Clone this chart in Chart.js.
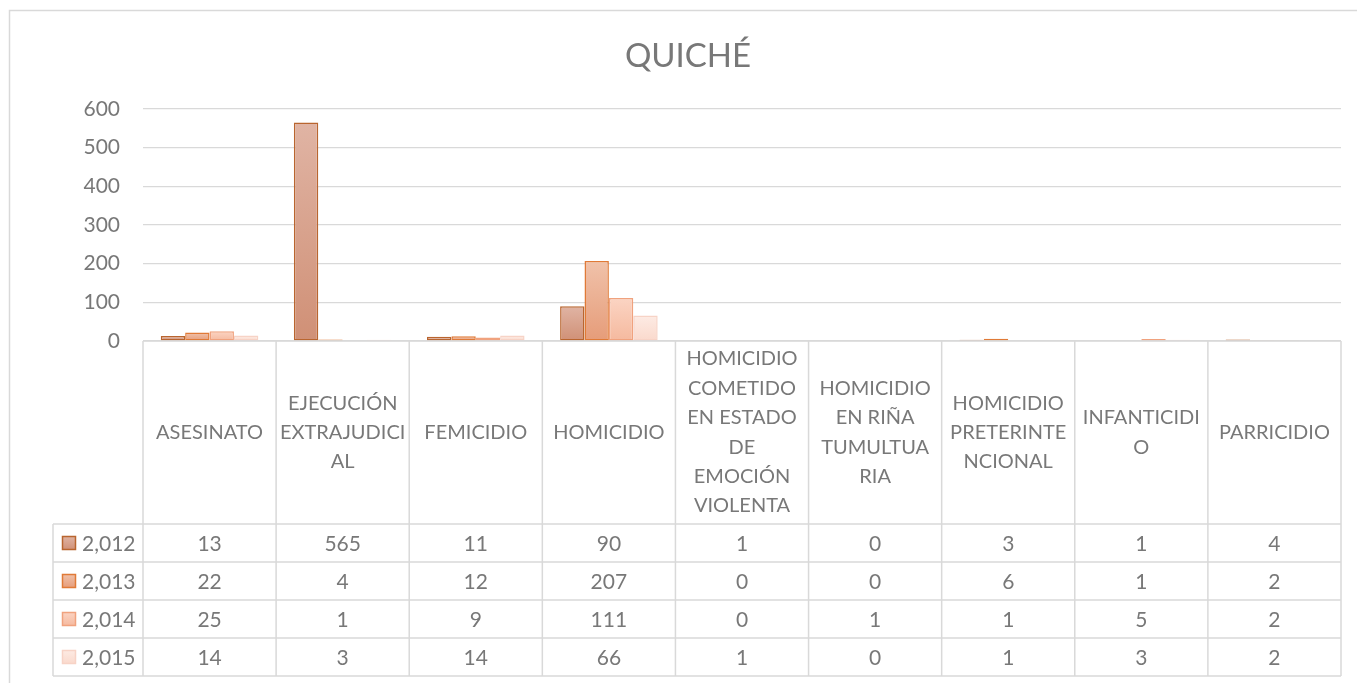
<!DOCTYPE html>
<html>
<head>
<meta charset="utf-8">
<script src="https://cdn.jsdelivr.net/npm/chart.js@4/dist/chart.umd.min.js"></script>
<style>
  html, body { margin: 0; padding: 0; background: #ffffff; }
  #wrap { position: relative; width: 1357px; height: 683px; }
</style>
</head>
<body>
<div id="wrap"><canvas id="c"></canvas></div>
<script>
// ---- data ----
const chartTitle = 'QUICHÉ';
const categories = [
  ['ASESINATO'],
  ['EJECUCIÓN', 'EXTRAJUDICI', 'AL'],
  ['FEMICIDIO'],
  ['HOMICIDIO'],
  ['HOMICIDIO', 'COMETIDO', 'EN ESTADO', 'DE', 'EMOCIÓN', 'VIOLENTA'],
  ['HOMICIDIO', 'EN RIÑA', 'TUMULTUA', 'RIA'],
  ['HOMICIDIO', 'PRETERINTE', 'NCIONAL'],
  ['INFANTICIDI', 'O'],
  ['PARRICIDIO']
];
const seriesNames = ['2,012', '2,013', '2,014', '2,015'];
const values2012 = [13, 565, 11, 90, 1, 0, 3, 1, 4];
const values2013 = [22, 4, 12, 207, 0, 0, 6, 1, 2];
const values2014 = [25, 1, 9, 111, 0, 1, 1, 5, 2];
const values2015 = [14, 3, 14, 66, 1, 0, 1, 3, 2];
const yTicks = [0, 100, 200, 300, 400, 500, 600];

// ---- styles ----
const FONT = 'Lato, "Open Sans", sans-serif';
const TEXT = '#787878';
const LINE = '#d9d9d9';
const styles = [
  { border: '#b9652f', top: '#e0b4a4', bottom: '#d09076' },
  { border: '#e07a37', top: '#f0c2aa', bottom: '#e69c79' },
  { border: '#f0a27e', top: '#fbd4c3', bottom: '#f5b99e' },
  { border: '#f7d3c6', top: '#fdebe4', bottom: '#fad9cc' }
];
const allValues = [values2012, values2013, values2014, values2015];

function barGradient(ctx, si) {
  const chart = ctx.chart;
  const st = styles[si];
  if (!chart.chartArea || ctx.type !== 'data') return st.bottom;
  const y = chart.scales.y;
  const v = ctx.raw;
  const yTop = y.getPixelForValue(v);
  const yBot = y.getPixelForValue(0);
  if (!isFinite(yTop) || Math.abs(yBot - yTop) < 1) return st.bottom;
  const g = chart.ctx.createLinearGradient(0, yTop, 0, yBot);
  g.addColorStop(0, st.top);
  g.addColorStop(1, st.bottom);
  return g;
}

const datasets = allValues.map((vals, si) => ({
  label: seriesNames[si],
  data: vals,
  backgroundColor: (ctx) => barGradient(ctx, si),
  borderColor: styles[si].border,
  borderWidth: 1.5,
  borderSkipped: false,
  categoryPercentage: 0.733,
  barPercentage: 1.0
}));

const frameAndTable = {
  id: 'frameAndTable',
  beforeDraw(chart) {
    const c = chart.ctx;
    c.save();
    c.fillStyle = '#ffffff';
    c.fillRect(0, 0, chart.width, chart.height);
    c.strokeStyle = LINE;
    c.lineWidth = 1.5;
    c.strokeRect(9.5, 10.5, chart.width + 20, chart.height + 20);
    // title
    c.fillStyle = TEXT;
    c.font = '33px ' + FONT;
    c.textAlign = 'center';
    c.textBaseline = 'alphabetic';
    c.fillText(chartTitle, 688, 67);
    c.restore();
  },
  afterDraw(chart) {
    const c = chart.ctx;
    const xs = chart.scales.x;
    const area = chart.chartArea;
    const n = categories.length;
    const colW = (area.right - area.left) / n;
    const y0 = area.bottom;
    const headerBottom = y0 + 183;
    const rowH = 38;
    const legendLeft = 53;
    const tableBottom = headerBottom + rowH * seriesNames.length;
    c.save();
    c.strokeStyle = LINE;
    c.lineWidth = 1.5;
    c.beginPath();
    // horizontal lines
    c.moveTo(area.left, y0); c.lineTo(area.right, y0);
    for (let r = 0; r <= seriesNames.length; r++) {
      const yy = headerBottom + r * rowH;
      c.moveTo(legendLeft, yy); c.lineTo(area.right, yy);
    }
    // vertical lines
    for (let i = 0; i <= n; i++) {
      const xx = area.left + i * colW;
      c.moveTo(xx, y0); c.lineTo(xx, tableBottom);
    }
    c.moveTo(legendLeft, headerBottom); c.lineTo(legendLeft, tableBottom);
    c.stroke();

    c.fillStyle = TEXT;
    c.font = '20px ' + FONT;
    c.textAlign = 'center';
    c.textBaseline = 'middle';
    const lineH = 29.4;
    const headerMid = (y0 + headerBottom) / 2;
    categories.forEach((lines, i) => {
      const cx = xs.getPixelForValue(i);
      const startY = headerMid - (lines.length - 1) * lineH / 2;
      lines.forEach((t, k) => c.fillText(t, cx, startY + k * lineH));
    });
    // rows
    c.font = '21px ' + FONT;
    seriesNames.forEach((name, si) => {
      const cy = headerBottom + si * rowH + rowH / 2;
      const st = styles[si];
      // legend key
      const g = c.createLinearGradient(0, cy - 7, 0, cy + 7);
      g.addColorStop(0, st.top); g.addColorStop(1, st.bottom);
      c.fillStyle = g;
      c.fillRect(62.5, cy - 6.5, 13, 13);
      c.strokeStyle = st.border;
      c.lineWidth = 1.5;
      c.strokeRect(62.5, cy - 6.5, 13, 13);
      c.fillStyle = TEXT;
      c.textAlign = 'left';
      c.fillText(name, 82, cy + 1);
      c.textAlign = 'center';
      allValues[si].forEach((v, i) => {
        c.fillText(String(v), xs.getPixelForValue(i), cy + 1);
      });
    });
    c.restore();
  }
};

new Chart(document.getElementById('c'), {
  type: 'bar',
  data: { labels: categories, datasets },
  options: {
    responsive: true,
    maintainAspectRatio: false,
    animation: false,
    layout: { padding: { left: 0, right: 16, top: 109, bottom: 342 } },
    plugins: {
      legend: { display: false },
      title: { display: false },
      tooltip: { enabled: false }
    },
    scales: {
      x: {
        display: false,
        offset: true,
        grid: { display: false }
      },
      y: {
        min: yTicks[0],
        max: yTicks[yTicks.length - 1],
        afterFit(scale) { scale.width = 143; },
        afterBuildTicks(scale) { scale.ticks = yTicks.map(v => ({ value: v })); },
        border: { display: false },
        grid: { color: LINE, lineWidth: 1.2, drawTicks: false },
        ticks: {
          color: TEXT,
          font: { family: FONT, size: 21 },
          padding: 23
        }
      }
    }
  },
  plugins: [frameAndTable]
});
</script>
</body>
</html>
